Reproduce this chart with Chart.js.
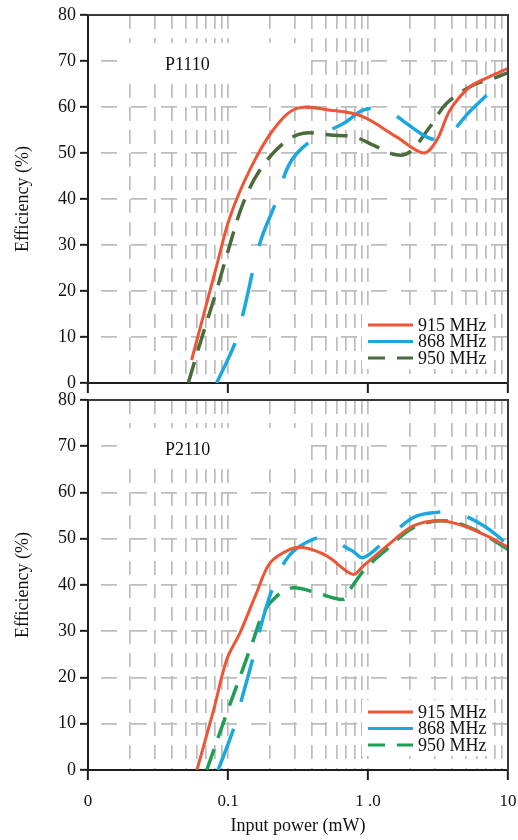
<!DOCTYPE html>
<html><head><meta charset="utf-8">
<script src="https://cdn.jsdelivr.net/npm/chart.js@4.4.1/dist/chart.umd.min.js"></script>
<style>
html,body{margin:0;padding:0;background:#fff;}
#wrap{position:relative;width:518px;height:840px;overflow:hidden;background:#fff;}
canvas{position:absolute;left:0;}
#c1{top:0;} #c2{top:383px;}
</style></head><body>
<div id="wrap">
<canvas id="c1" width="518" height="393"></canvas>
<canvas id="c2" width="518" height="457"></canvas>
</div>
<script>
// ---------- data ----------
const panelLabels = ['P1110', 'P2110'];
const seriesNames = ['915 MHz', '868 MHz', '950 MHz'];
const xTickValues = [0.01, 0.1, 1, 10];
const xTickLabels = ['0', '0.1', '1 .0', '10'];
const yTickValues = [0, 10, 20, 30, 40, 50, 60, 70, 80];
const yGridValues = [0, 5, 10, 15, 20, 25, 30, 35, 40, 45, 50, 55, 60, 65, 70, 75, 80];
const xAxisTitle = 'Input power (mW)';
const yAxisTitle = 'Efficiency (%)';

// Panel 1 (P1110)
const p1x915 = [0.055, 0.083, 0.103, 0.144, 0.21, 0.31, 0.54, 0.9, 1.6, 2.5, 3.1, 3.85, 5.35, 7.4, 10];
const p1y915 = [5, 25.5, 36, 46.5, 55, 59.7, 59.3, 58, 53.5, 50, 52.8, 59.3, 64.4, 66.6, 68.4];
const p1x868 = [0.083, 0.112, 0.128, 0.169, 0.223, 0.262, 0.31, 0.43, 0.667, 0.92, 1.22, 1.6, 1.89, 2.62, 3.2, 3.65, 5.07, 7.05, 8.8];
const p1y868 = [0, 8.6, 15, 30.4, 39.8, 46.3, 49.9, 53.5, 56.4, 59.3, 59.7, 58, 56.4, 53.5, 52.8, 53.2, 58.3, 62.6, 65.5];
const p1x950 = [0.052, 0.063, 0.083, 0.103, 0.128, 0.169, 0.248, 0.345, 0.54, 0.8, 1.09, 1.6, 2.0, 2.77, 3.65, 5.65, 7.85, 10];
const p1y950 = [0, 8.5, 20.2, 30, 39, 46.3, 52.1, 54.3, 53.9, 53.5, 51.7, 49.6, 50.3, 55.7, 60.8, 64.8, 66.2, 67.5];

// Panel 2 (P2110)
const p2x915 = [0.06, 0.079, 0.098, 0.122, 0.16, 0.2, 0.277, 0.345, 0.507, 0.78, 0.924, 1.36, 2.11, 3.27, 4.8, 7.05, 10];
const p2y915 = [0, 13, 23.9, 29.7, 38.3, 44.8, 47.7, 48.1, 46.3, 42.3, 44.1, 48.4, 52.8, 53.9, 52.8, 50.6, 48.2];
const p2x868 = [0.085, 0.109, 0.125, 0.152, 0.169, 0.211, 0.262, 0.327, 0.48, 0.77, 0.924, 1.36, 2.11, 3.1, 4.2, 6.7, 10];
const p2y868 = [0, 8.7, 15.2, 24.6, 30.4, 39.8, 45.6, 48.4, 50.3, 47.4, 45.9, 49.9, 54.6, 55.7, 55.7, 52.8, 48.8];
const p2x950 = [0.0705, 0.098, 0.122, 0.152, 0.179, 0.223, 0.293, 0.43, 0.667, 0.743, 0.95, 1.36, 2.11, 3.45, 5.65, 10];
const p2y950 = [0, 12.3, 20.2, 28.2, 34, 37.6, 39.4, 38.3, 36.9, 39, 43.4, 47.7, 52.4, 53.9, 52.1, 47.7];

// ---------- styling ----------
const FONT = "'Liberation Serif','Times New Roman',serif";
const AXIS = '#1e1e1e';
const GRID = '#bdbdbd';
const RED = '#ec5535';
const BLUE = '#1aa8de';
const GREEN1 = '#4a6c3c';
const GREEN2 = '#1f9f55';
const NONE = 'rgba(0,0,0,0)';

// minor log grid positions (1..9 x decade)
const xGridValues = [];
[0.01, 0.1, 1].forEach(d => { for (let k = 1; k <= 9; k++) xGridValues.push(+(d * k).toPrecision(3)); });
xGridValues.push(10);

const isDecade = v => xTickValues.some(t => Math.abs(t - v) < 1e-9);
const pts = (xs, ys) => xs.map((x, i) => ({x: x, y: ys[i]}));

function makeDatasets(x915, y915, x868, y868, x950, y950, green) {
  return [
    {label: seriesNames[0], data: pts(x915, y915), borderColor: RED, borderWidth: 3, legendDash: []},
    {label: seriesNames[1], data: pts(x868, y868), borderColor: BLUE, borderWidth: 3.5, borderDash: [44, 28], legendDash: []},
    {label: seriesNames[2], data: pts(x950, y950), borderColor: green, borderWidth: 3.5, borderDash: [22, 12], legendDash: [17, 12]}
  ];
}

const decorPlugin = {
  id: 'decor',
  beforeDatasetsDraw(chart) {
    const {ctx, chartArea: a} = chart;
    const o = chart.options.plugins.decor;
    ctx.save();
    // blank areas behind panel label and legend
    ctx.fillStyle = '#fff';
    ctx.fillRect(a.left + 32, a.top + 28, 180, 40);
    ctx.fillRect(a.right - 146, a.bottom - 70, 130, 56);
    // panel label
    ctx.fillStyle = '#111';
    ctx.font = '18px ' + FONT;
    ctx.textBaseline = 'middle';
    ctx.textAlign = 'left';
    ctx.fillText(o.label, a.left + 77, a.top + 50);
    // legend
    chart.data.datasets.forEach((ds, i) => {
      const y = a.bottom - 58 + i * 16.5;
      ctx.strokeStyle = ds.borderColor;
      ctx.lineWidth = 3;
      ctx.setLineDash(ds.legendDash || []);
      ctx.beginPath();
      ctx.moveTo(a.right - 140, y);
      ctx.lineTo(a.right - 95, y);
      ctx.stroke();
      ctx.setLineDash([]);
      ctx.fillStyle = '#111';
      ctx.fillText(ds.label, a.right - 90, y + 1);
    });
    ctx.restore();
  },
  afterDraw(chart) {
    const {ctx, chartArea: a} = chart;
    ctx.save();
    ctx.strokeStyle = '#3a3a3a';
    ctx.lineWidth = 2;
    ctx.beginPath();
    ctx.moveTo(a.left, a.top);
    ctx.lineTo(a.right, a.top);
    ctx.lineTo(a.right, a.bottom);
    ctx.stroke();
    ctx.restore();
  }
};

function makeOptions(label, isBottom) {
  return {
    responsive: false,
    animation: false,
    devicePixelRatio: 1,
    layout: {padding: {top: isBottom ? 17 : 15, right: 10, left: 0, bottom: 0}},
    plugins: {legend: {display: false}, tooltip: {enabled: false}, decor: {label: label}},
    elements: {point: {radius: 0}, line: {tension: 0.35, borderCapStyle: 'butt', fill: false}},
    scales: {
      x: {
        type: 'logarithmic', min: 0.01, max: 10, position: 'bottom',
        afterBuildTicks: s => { s.ticks = xGridValues.map(v => ({value: v, major: isDecade(v)})); },
        afterFit: s => { s.height = isBottom ? 70 : 10; s.paddingLeft = 0; s.paddingRight = 0; },
        ticks: {
          display: isBottom, autoSkip: false, maxRotation: 0, padding: 11, color: '#111',
          font: {family: FONT, size: 17},
          callback: v => { const i = xTickValues.findIndex(t => Math.abs(t - v) < 1e-9); return i >= 0 ? xTickLabels[i] : ''; }
        },
        grid: {
          color: GRID, lineWidth: 1.7, drawTicks: true, tickLength: 10, tickWidth: 2,
          tickColor: c => (c.tick && isDecade(c.tick.value)) ? AXIS : NONE
        },
        border: {color: AXIS, width: 2, dash: [14, 9], dashOffset: 0},
        title: {display: isBottom, text: xAxisTitle, color: '#111', font: {family: FONT, size: 18}, padding: {top: 3, bottom: 3}}
      },
      y: {
        min: 0, max: 80,
        afterBuildTicks: s => { s.ticks = yGridValues.map(v => ({value: v})); },
        afterFit: s => { s.width = 88; s.paddingTop = 0; s.paddingBottom = 0; },
        ticks: {
          padding: 4, color: '#111', font: {family: FONT, size: 18},
          callback: v => yTickValues.includes(v) ? String(v) : ''
        },
        grid: {
          color: GRID, lineWidth: 1.7, drawTicks: true, tickLength: 8, tickWidth: 2,
          tickColor: c => (c.tick && yTickValues.includes(c.tick.value)) ? AXIS : NONE
        },
        border: {color: AXIS, width: 2, dash: [16, 14], dashOffset: 18},
        title: {display: true, text: yAxisTitle, color: '#111', font: {family: FONT, size: 18}, padding: {top: 12, bottom: 12}}
      }
    }
  };
}

new Chart(document.getElementById('c1'), {
  type: 'line',
  data: {datasets: makeDatasets(p1x915, p1y915, p1x868, p1y868, p1x950, p1y950, GREEN1)},
  options: makeOptions(panelLabels[0], false),
  plugins: [decorPlugin]
});
new Chart(document.getElementById('c2'), {
  type: 'line',
  data: {datasets: makeDatasets(p2x915, p2y915, p2x868, p2y868, p2x950, p2y950, GREEN2)},
  options: makeOptions(panelLabels[1], true),
  plugins: [decorPlugin]
});
</script>
</body></html>
